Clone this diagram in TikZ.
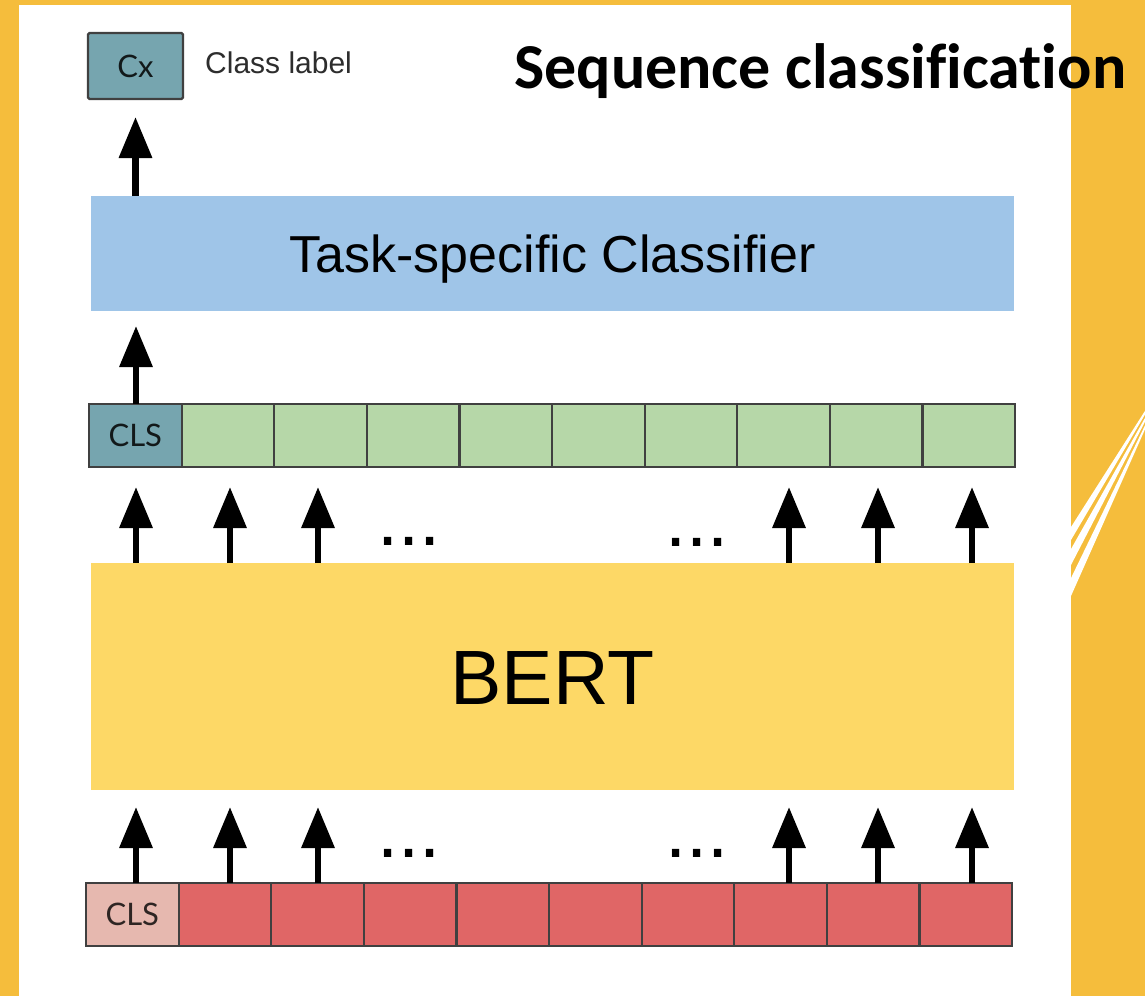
\documentclass[tikz,border=0pt]{standalone}
\usepackage{fontspec}
\setmainfont{Liberation Sans}
\newfontfamily\titlefont[Ligatures=NoCommon]{Carlito}
\newfontfamily\cellfont{Lato}
\usetikzlibrary{arrows.meta,calc}

\definecolor{slidebg}{RGB}{245,189,60}
\definecolor{clfblue}{RGB}{159,197,232}
\definecolor{bertyellow}{RGB}{253,216,102}
\definecolor{outgreen}{RGB}{182,215,168}
\definecolor{inred}{RGB}{224,102,102}
\definecolor{clspink}{RGB}{230,184,175}
\definecolor{clsteal}{RGB}{118,165,175}
\definecolor{cellline}{RGB}{64,64,64}
\definecolor{labelgray}{RGB}{45,45,45}

\tikzset{
  cellbox/.style={draw=cellline, line width=2.2pt, minimum width=92.6pt,
    minimum height=63pt, inner sep=0pt, outer sep=0pt, anchor=north west},
  clstext/.style={font=\cellfont\fontsize{31}{33}\selectfont,
    text height=22pt, text depth=0pt},
  bandbox/.style={inner sep=0pt, outer sep=0pt, minimum width=923pt},
  uparrow/.style={-{Triangle[width=32pt,length=41pt]}, line width=6.5pt},
  dotrow/.style={font=\fontsize{76}{80}\selectfont, anchor=base, inner sep=0pt}
}

\begin{document}
\begin{tikzpicture}[x=1pt,y=-1pt]
  \useasboundingbox (0,0) rectangle (1145,996);

  % slide background, white panel and the decorative streaks
  \fill[slidebg] (0,0) rectangle (1145,996);
  \fill[white] (19,5) rectangle (1071,996);
  \fill[white] (1071,527) -- (1071,540) -- (1150,406) -- (1150,403) -- cycle;
  \fill[white] (1071,549) -- (1071,565) -- (1150,412) -- (1150,409) -- cycle;
  \fill[white] (1071,578) -- (1071,596) -- (1150,418) -- (1150,415) -- cycle;

  % title
  \node[anchor=base west, inner sep=0pt,
        font=\titlefont\bfseries\fontsize{64}{68}\selectfont] (title) at (514,88)
        {Sequence classification};

  % class label output
  \node[draw=cellline, line width=2.2pt, fill=clsteal, rounded corners=1.5pt,
        minimum width=95pt, minimum height=66pt, inner sep=0pt, outer sep=0pt,
        font=\cellfont\fontsize{31}{33}\selectfont, text=black!85!clsteal,
        text height=22pt, text depth=0pt] (cx) at (135.5,66) {Cx};
  \node[anchor=base west, inner sep=0pt, text=labelgray,
        font=\fontsize{30}{34}\selectfont] (clslabel) at (205,73) {Class label};

  % task-specific classifier
  \node[bandbox, fill=clfblue, minimum height=115pt,
        font=\fontsize{52}{56}\selectfont, text height=37pt, text depth=0pt]
        (clf) at (552.5,253.5) {Task-specific Classifier};

  % BERT encoder
  \node[bandbox, fill=bertyellow, minimum height=227pt,
        font=\fontsize{77}{82}\selectfont, text height=55pt, text depth=0pt]
        (bert) at (552.5,676.5) {BERT};

  % output token row
  \node[cellbox, fill=clsteal, clstext, text=black!85!clsteal] (g0) at (89,404) {CLS};
  \foreach \i in {1,...,9}
    \node[cellbox, fill=outgreen] (g\i) at ({89+92.6*\i},404) {};

  % input token row
  \node[cellbox, fill=clspink, clstext, text=black!80!clspink] (r0) at (86,883) {CLS};
  \foreach \i in {1,...,9}
    \node[cellbox, fill=inred] (r\i) at ({86+92.6*\i},883) {};

  % arrow columns
  \foreach \k/\x in {1/136,2/230,3/318,4/789,5/878,6/972}
    \coordinate (col\k) at (\x,500);

  % arrows into and out of BERT
  \foreach \k in {1,...,6}{
    \draw[uparrow, shorten >=17pt] (col\k |- r0.north) -- (col\k |- bert.south);
    \draw[uparrow, shorten >=20pt] (col\k |- bert.north) -- (col\k |- g0.south);
  }

  % ellipses between the arrows
  \node[dotrow] (dotsA) at (409,545) {...};
  \node[dotrow] (dotsB) at (697,546) {...};
  \node[dotrow] (dotsC) at (409,857) {...};
  \node[dotrow] (dotsD) at (697,857) {...};

  % CLS output to classifier, classifier to class label
  \draw[uparrow, shorten >=15pt] (col1 |- g0.north) -- (col1 |- clf.south);
  \draw[uparrow, shorten >=18pt] (cx.south |- clf.north) -- (cx.south);
\end{tikzpicture}
\end{document}
